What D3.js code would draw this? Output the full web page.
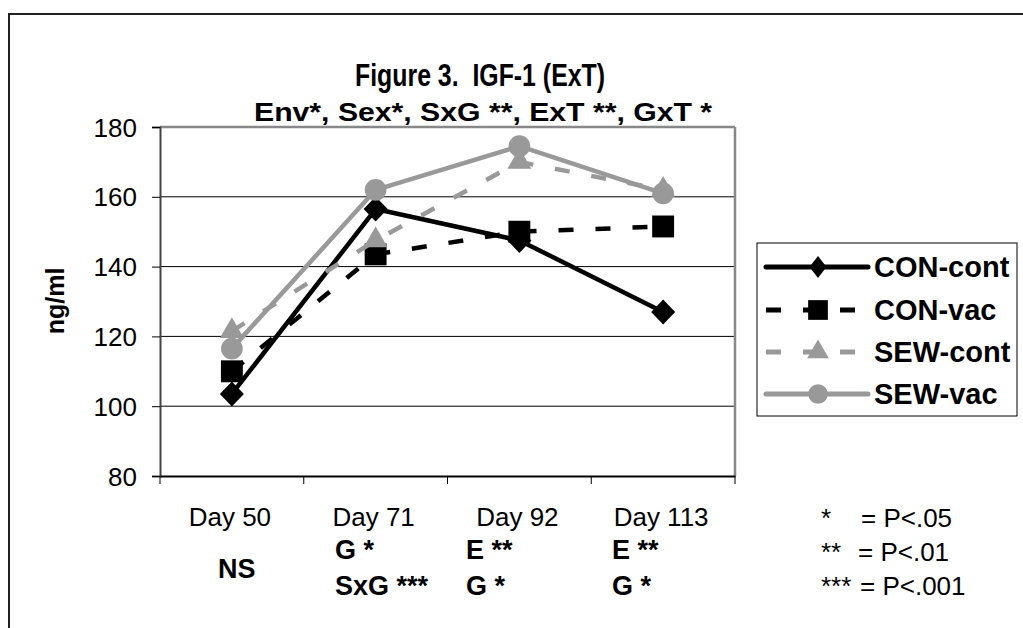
<!DOCTYPE html>
<html>
<head>
<meta charset="utf-8">
<script src="https://cdn.jsdelivr.net/npm/d3@7"></script>
<style>
html,body{margin:0;padding:0;background:#fff;}
svg{display:block;font-family:Arial,"Liberation Sans",sans-serif;}
</style>
</head>
<body>
<svg id="chart" width="1023" height="628"></svg>
<script>
const categories = ["Day 50", "Day 71", "Day 92", "Day 113"];
const seriesNames = ["CON-cont", "CON-vac", "SEW-cont", "SEW-vac"];
const conCont = [103.5, 156.5, 147.5, 127];
const conVac = [110, 143.5, 150, 151.5];
const sewCont = [121.5, 147.5, 170, 162];
const sewVac = [116.5, 162, 174.5, 161];
const yTicks = [80, 100, 120, 140, 160, 180];
const sigRow1 = ["", "G *", "E **", "E **"];
const sigRow2 = ["", "SxG ***", "G *", "G *"];
const sigSingle = ["NS", "", "", ""];
const pStars = ["*", "**", "***"];
const pText = ["= P<.05", "= P<.01", "= P<.001"];
const titleText = "Figure 3.  IGF-1 (ExT)";
const subtitleText = "Env*, Sex*, SxG **, ExT **, GxT *";
const yLabel = "ng/ml";

(function () {
const svg = d3.select("#chart");
const pL = 160, pR = 735, pT = 127, pB = 476;

const x = d3.scaleBand().domain(categories).range([pL, pR]).padding(0);
const y = d3.scaleLinear().domain([80, 180]).range([pB, pT]);
const cx = c => x(c) + x.bandwidth() / 2;

// outer frame
svg.append("line").attr("x1", 9).attr("x2", 9).attr("y1", 14).attr("y2", 628).attr("stroke", "#222").attr("stroke-width", 2);
svg.append("line").attr("x1", 8).attr("x2", 1023).attr("y1", 14).attr("y2", 14).attr("stroke", "#222").attr("stroke-width", 2);

// gridlines
svg.append("g").selectAll("line").data(yTicks.filter(d => d > 80 && d < 180)).join("line")
  .attr("x1", pL).attr("x2", pR).attr("y1", d => y(d)).attr("y2", d => y(d))
  .attr("stroke", "#000").attr("stroke-width", 1);

// plot border top/right
svg.append("line").attr("x1", pL).attr("x2", pR).attr("y1", pT).attr("y2", pT).attr("stroke", "#888").attr("stroke-width", 2.5);
svg.append("line").attr("x1", pR).attr("x2", pR).attr("y1", pT).attr("y2", pB).attr("stroke", "#888").attr("stroke-width", 2.5);

// y axis
const yAxis = d3.axisLeft(y).tickValues(yTicks).tickSize(8).tickPadding(15);
const gy = svg.append("g").attr("transform", `translate(${pL},0)`).call(yAxis);
gy.select(".domain").attr("stroke", "#444").attr("stroke-width", 2);
gy.selectAll(".tick line").attr("stroke", "#000");
gy.selectAll("text").attr("font-size", 26).attr("fill", "#000")
  .attr("font-family", "Arial, 'Liberation Sans', sans-serif").attr("dy", "0.35em");

// x axis
const xAxis = d3.axisBottom(x).tickSize(0).tickFormat("");
const gx = svg.append("g").attr("transform", `translate(0,${pB})`).call(xAxis);
gx.select(".domain").attr("stroke", "#000").attr("stroke-width", 2);
const bounds = categories.map(c => x(c)).concat([pR]);
svg.append("g").selectAll("line").data(bounds).join("line")
  .attr("x1", d => d).attr("x2", d => d).attr("y1", pB).attr("y2", pB + 8)
  .attr("stroke", "#000").attr("stroke-width", 1);

// x labels
svg.append("g").selectAll("text").data(categories).join("text")
  .attr("x", d => cx(d) - 2).attr("y", 526).attr("text-anchor", "middle")
  .attr("font-size", 26).text(d => d);

// significance rows
const sigX = [0, 335, 466, 612];
svg.append("g").selectAll("text").data(sigRow1).join("text")
  .attr("x", (d, i) => sigX[i]).attr("y", 559).attr("font-size", 27).attr("font-weight", "bold").text(d => d);
svg.append("g").selectAll("text").data(sigRow2).join("text")
  .attr("x", (d, i) => sigX[i]).attr("y", 595).attr("font-size", 27).attr("font-weight", "bold").text(d => d);
svg.append("g").selectAll("text").data(sigSingle).join("text")
  .attr("x", (d, i) => cx(categories[i]) + 5).attr("y", 578).attr("text-anchor", "middle")
  .attr("font-size", 27).attr("font-weight", "bold").text(d => d);

// p legend
const pEqX = [861, 858, 860];
svg.append("g").selectAll("text").data(pStars).join("text")
  .attr("x", 821).attr("y", (d, i) => 527 + i * 34).attr("font-size", 26).text(d => d);
svg.append("g").selectAll("text").data(pText).join("text")
  .attr("x", (d, i) => pEqX[i]).attr("y", (d, i) => 527 + i * 34).attr("font-size", 26).text(d => d);

// titles
svg.append("text").attr("x", 480).attr("y", 86).attr("text-anchor", "middle")
  .attr("font-size", 32).attr("font-weight", "bold").style("white-space", "pre")
  .attr("textLength", 250).attr("lengthAdjust", "spacingAndGlyphs").text(titleText);
svg.append("text").attr("x", 483).attr("y", 121).attr("text-anchor", "middle")
  .attr("font-size", 26).attr("font-weight", "bold")
  .attr("textLength", 458).attr("lengthAdjust", "spacingAndGlyphs").text(subtitleText);
svg.append("text").attr("transform", "translate(64,301) rotate(-90)").attr("text-anchor", "middle")
  .attr("font-size", 25).attr("font-weight", "bold").text(yLabel);

// series
const diamond = (w, h) => `M0,${-h/2}L${w/2},0L0,${h/2}L${-w/2},0Z`;
const series = [
  {name: seriesNames[0], values: conCont, color: "#000", dash: null, shape: "diamond"},
  {name: seriesNames[1], values: conVac, color: "#000", dash: "15,22", shape: "square"},
  {name: seriesNames[2], values: sewCont, color: "#999", dash: "15,22", shape: "triangle"},
  {name: seriesNames[3], values: sewVac, color: "#999", dash: null, shape: "circle"}
];
const markerPath = (shape, k) => {
  if (shape === "diamond") return diamond(24 * k, 25 * k);
  if (shape === "square") return d3.symbol().type(d3.symbolSquare).size(480 * k * k)();
  if (shape === "triangle") return d3.symbol().type(d3.symbolTriangle).size(250 * k * k)();
  return d3.symbol().type(d3.symbolCircle).size(370 * k * k)();
};

const line = d3.line().x((d, i) => cx(categories[i])).y(d => y(d));
series.forEach(s => {
  svg.append("path").attr("d", line(s.values)).attr("fill", "none")
    .attr("stroke", s.color).attr("stroke-width", 4.5)
    .attr("stroke-dasharray", s.dash).attr("stroke-linejoin", "round");
  svg.append("g").selectAll("path").data(s.values).join("path")
    .attr("d", markerPath(s.shape, 1))
    .attr("transform", (d, i) => `translate(${cx(categories[i])},${y(d)})`)
    .attr("fill", s.color);
});

// legend
const lg = svg.append("g");
lg.append("rect").attr("x", 757).attr("y", 243).attr("width", 260).attr("height", 173)
  .attr("fill", "#fff").attr("stroke", "#000").attr("stroke-width", 1);
const rowY = [267, 310, 352, 394];
series.forEach((s, i) => {
  lg.append("line").attr("x1", 766).attr("x2", 868).attr("y1", rowY[i]).attr("y2", rowY[i])
    .attr("stroke", s.color).attr("stroke-width", 5).attr("stroke-dasharray", s.dash)
    .attr("stroke-linecap", s.dash ? null : "round");
  const p = s.shape === "diamond" ? diamond(17, 22) : markerPath(s.shape, 0.9);
  lg.append("path").attr("d", p)
    .attr("transform", `translate(818,${rowY[i]})`).attr("fill", s.color);
  lg.append("text").attr("x", 874).attr("y", rowY[i] + 10).attr("font-size", 29)
    .attr("font-weight", "bold").text(s.name);
});
})();
</script>
</body>
</html>
